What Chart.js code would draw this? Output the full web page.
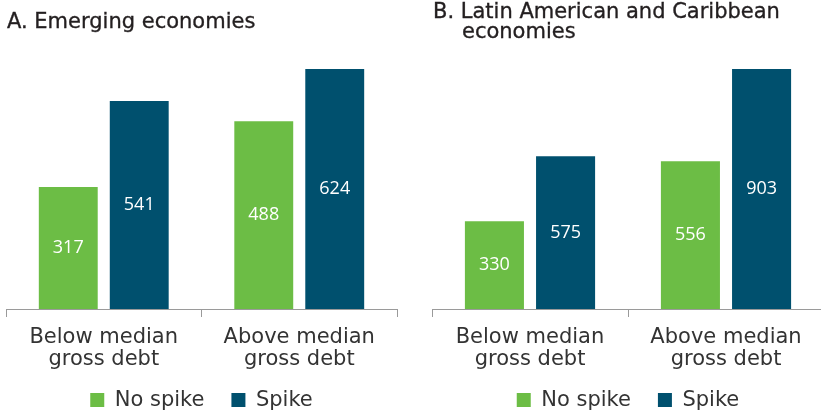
<!DOCTYPE html>
<html><head><meta charset="utf-8">
<script src="https://cdn.jsdelivr.net/npm/chart.js@4/dist/chart.umd.min.js"></script>
<style>
html,body{margin:0;padding:0;background:#fff;overflow:hidden;width:821px;height:411px;position:relative;}
.wrap{position:absolute;top:0;height:411px;overflow:hidden;}
.title{position:absolute;font-family:"DejaVu Sans",sans-serif;font-weight:normal;font-size:21px;color:#231f20;line-height:21px;white-space:nowrap;-webkit-text-stroke:0.35px #231f20;}
</style></head><body>
<div class="wrap" style="left:0;width:410px;"><canvas id="cA" width="410" height="438"></canvas></div>
<div class="wrap" style="left:420px;width:401px;"><canvas id="cB" width="404" height="438"></canvas></div>
<div class="title" style="left:7px;top:11px;">A. Emerging economies</div>
<div class="title" style="left:433px;top:1px;">B. Latin American and Caribbean</div>
<div class="title" style="left:462px;top:21px;">economies</div>
<script>
const categories = [["Below median","gross debt"],["Above median","gross debt"]];
const seriesNames = ["No spike","Spike"];
const emergingNoSpike = [317, 488];
const emergingSpike = [541, 624];
const latamNoSpike = [330, 556];
const latamSpike = [575, 903];
const GREEN = "#6cbd45";
const BLUE = "#00506e";
const FONT = "'DejaVu Sans', sans-serif";
const NUMFONT = "'Open Sans', sans-serif";

const labelPlugin = {
  id: 'barLabels',
  afterDatasetsDraw(chart){
    const ctx = chart.ctx;
    ctx.save();
    ctx.fillStyle = '#fff';
    ctx.font = "18px " + NUMFONT;
    ctx.textAlign = 'center';
    ctx.textBaseline = 'middle';
    chart.data.datasets.forEach((ds, i) => {
      chart.getDatasetMeta(i).data.forEach((bar, j) => {
        const y = (bar.y + bar.base) / 2;
        ctx.fillText(String(ds.data[j]), bar.x, y);
      });
    });
    ctx.restore();
  }
};
// pull the legend a little closer to the axis labels
const legendShift = {
  id: 'legendShift',
  afterLayout(chart){
    if (chart.legend) { chart.legend.top -= 17.4; chart.legend.bottom -= 17.4; }
  }
};

function make(id, a, b, pad){
  return new Chart(document.getElementById(id), {
    type: 'bar',
    data: {
      labels: categories,
      datasets: [
        {label: seriesNames[0], data: a, backgroundColor: GREEN},
        {label: seriesNames[1], data: b, backgroundColor: BLUE}
      ]
    },
    options: {
      responsive: false,
      animation: false,
      datasets: {bar: {categoryPercentage: 0.726, barPercentage: 0.83}},
      layout: {padding: pad},
      plugins: {
        legend: {
          position: 'bottom',
          labels: {
            boxWidth: 14, boxHeight: 14, padding: 27,
            color: '#333', font: {family: FONT, size: 21}
          }
        },
        tooltip: {enabled: false},
        title: {display: false}
      },
      scales: {
        x: {
          grid: {display: true, drawOnChartArea: false, drawTicks: true, tickLength: 8, color: '#9a9a9a', offset: true},
          border: {display: true, color: '#9a9a9a', width: 1},
          ticks: {color: '#333', font: {family: FONT, size: 21, lineHeight: 1.0476}, padding: 9.5, maxRotation: 0}
        },
        y: {
          display: false,
          min: 0,
          max: Math.max(...a, ...b)
        }
      }
    },
    plugins: [labelPlugin, legendShift]
  });
}
make('cA', emergingNoSpike, emergingSpike, {left: 6, right: 13, top: 69, bottom: 0});
make('cB', latamNoSpike, latamSpike, {left: 12, right: 0, top: 69, bottom: 0});
</script>
</body></html>
